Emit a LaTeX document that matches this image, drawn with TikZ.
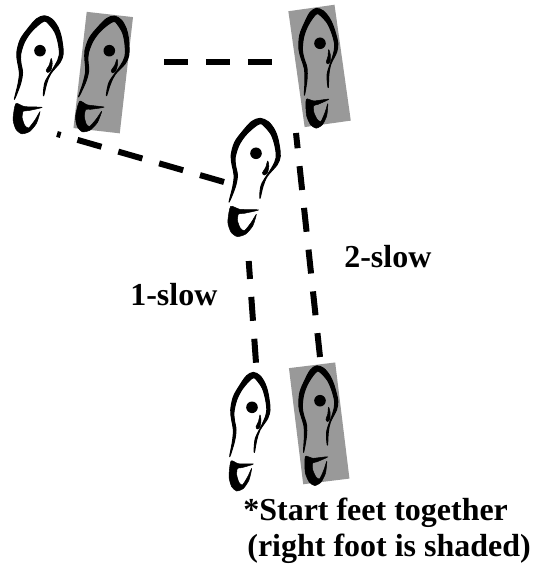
\documentclass[tikz,border=0pt]{standalone}
\usepackage{fontspec}
\setmainfont{Liberation Serif}
\definecolor{shadegray}{gray}{0.6}
\tikzset{
    foot/.pic={
        \filldraw [line width=0.02cm, line join=round] plot [smooth cycle, tension=0.55] coordinates {(-22,25) (-19.3,10) (-18.3,-1.7) (-20,-11.7) (-21,-21.7) (-18.3,-35) (-11.7,-46.7) (-5,-56) (1.7,-59.3) (8.3,-56) (13.3,-48.3) (16,-40) (17.7,-30) (18.3,-21.7) (16,-13.3) (8.3,-1.7) (5,8.3) (2.7,20.7) (2.7,13.3) (4.3,5) (11.7,-10) (15,-20) (14,-31.7) (10.7,-43.3) (5,-51.7) (1.7,-54) (-3.3,-50) (-10,-41.7) (-15,-31.7) (-17.7,-20) (-17.3,-11.7) (-15.7,-1.7) (-17.3,10)};
        \filldraw [line width=0.01cm] plot [smooth cycle, tension=0.55] coordinates {(8.3,-16.7) (9.3,-11.7) (8.3,-5) (5.7,-2.7) (4.3,-5) (6.7,-10)};
        \filldraw [line width=0.01cm, line join=round] plot [smooth cycle, tension=0.4] coordinates {(-20.7,29.3) (-13.3,32) (1.7,32.3) (-10,36) (-14.3,36.7) (-15,43.3) (-12.7,50.7) (-9.3,53.3) (-4,45) (0,36.7) (-2.7,48.3) (-8.3,56.7) (-15,59.3) (-20,55) (-22.7,45)};
    },
    footbox/.pic={
        \fill [shadegray] (-26.2,-60.4) rectangle (20.4,56.6);
    },
    dashline/.style={line width=0.12cm, dash pattern=on 0.48cm off 0.36cm},
    steptext/.style={font=\bfseries\fontsize{18.2}{18.2}\selectfont, anchor=base west, inner sep=0pt},
}

\begin{document}
\begin{tikzpicture}[x=0.02cm, y=-0.02cm]
    \useasboundingbox (0,0) rectangle (534,564);

    \path (41,75) coordinate (lf1) pic [rotate=-1.5, xscale=1.18] {foot};
    \fill (40,50.7) circle (5.8);
    \path (105.9,74.8) coordinate (rf1) pic [rotate=-6.5] {footbox} pic [rotate=-6.5, xscale=1.12] {foot};
    \fill (109.3,50.7) circle (5.8);
    \path (322.7,67.4) coordinate (rf2) pic [rotate=8] {footbox} pic [rotate=8] {foot};
    \fill (320,43.3) circle (5.8);
    \path (257,177.6) coordinate (lf2) pic [rotate=-1, xscale=1.25] {foot};
    \fill (256,153.3) circle (5.8);
    \path (251.7,431.7) coordinate (lf3) pic {foot};
    \fill (252,407.3) circle (5.8);
    \path (322.3,424.9) coordinate (rf3) pic [rotate=7] {footbox} pic [rotate=7] {foot};
    \fill (320,400.7) circle (5.8);

    \path (164,62) coordinate (d1a);
    \path (272,62) coordinate (d1b);
    \draw [dashline] (d1a) -- (d1b);
    \path (224,182) coordinate (d2a);
    \path (57,134) coordinate (d2b);
    \draw [dashline, dash pattern=on 0.5cm off 0.35cm] (d2a) -- (d2b);
    \path (256,362.7) coordinate (d3a);
    \path (248.7,261) coordinate (d3b);
    \draw [dashline] (d3a) -- (d3b);
    \path (320,357) coordinate (d4a);
    \path (296,133) coordinate (d4b);
    \draw [dashline] (d4a) -- (d4b);

    \path (130,305) node [steptext] (slow1) {1-slow};
    \path (344,267) node [steptext] (slow2) {2-slow};
    \path (243,520) node [steptext] (note1) {*Start feet together};
    \path (247,556) node [steptext] (note2) {(right foot is shaded)};
\end{tikzpicture}
\end{document}
